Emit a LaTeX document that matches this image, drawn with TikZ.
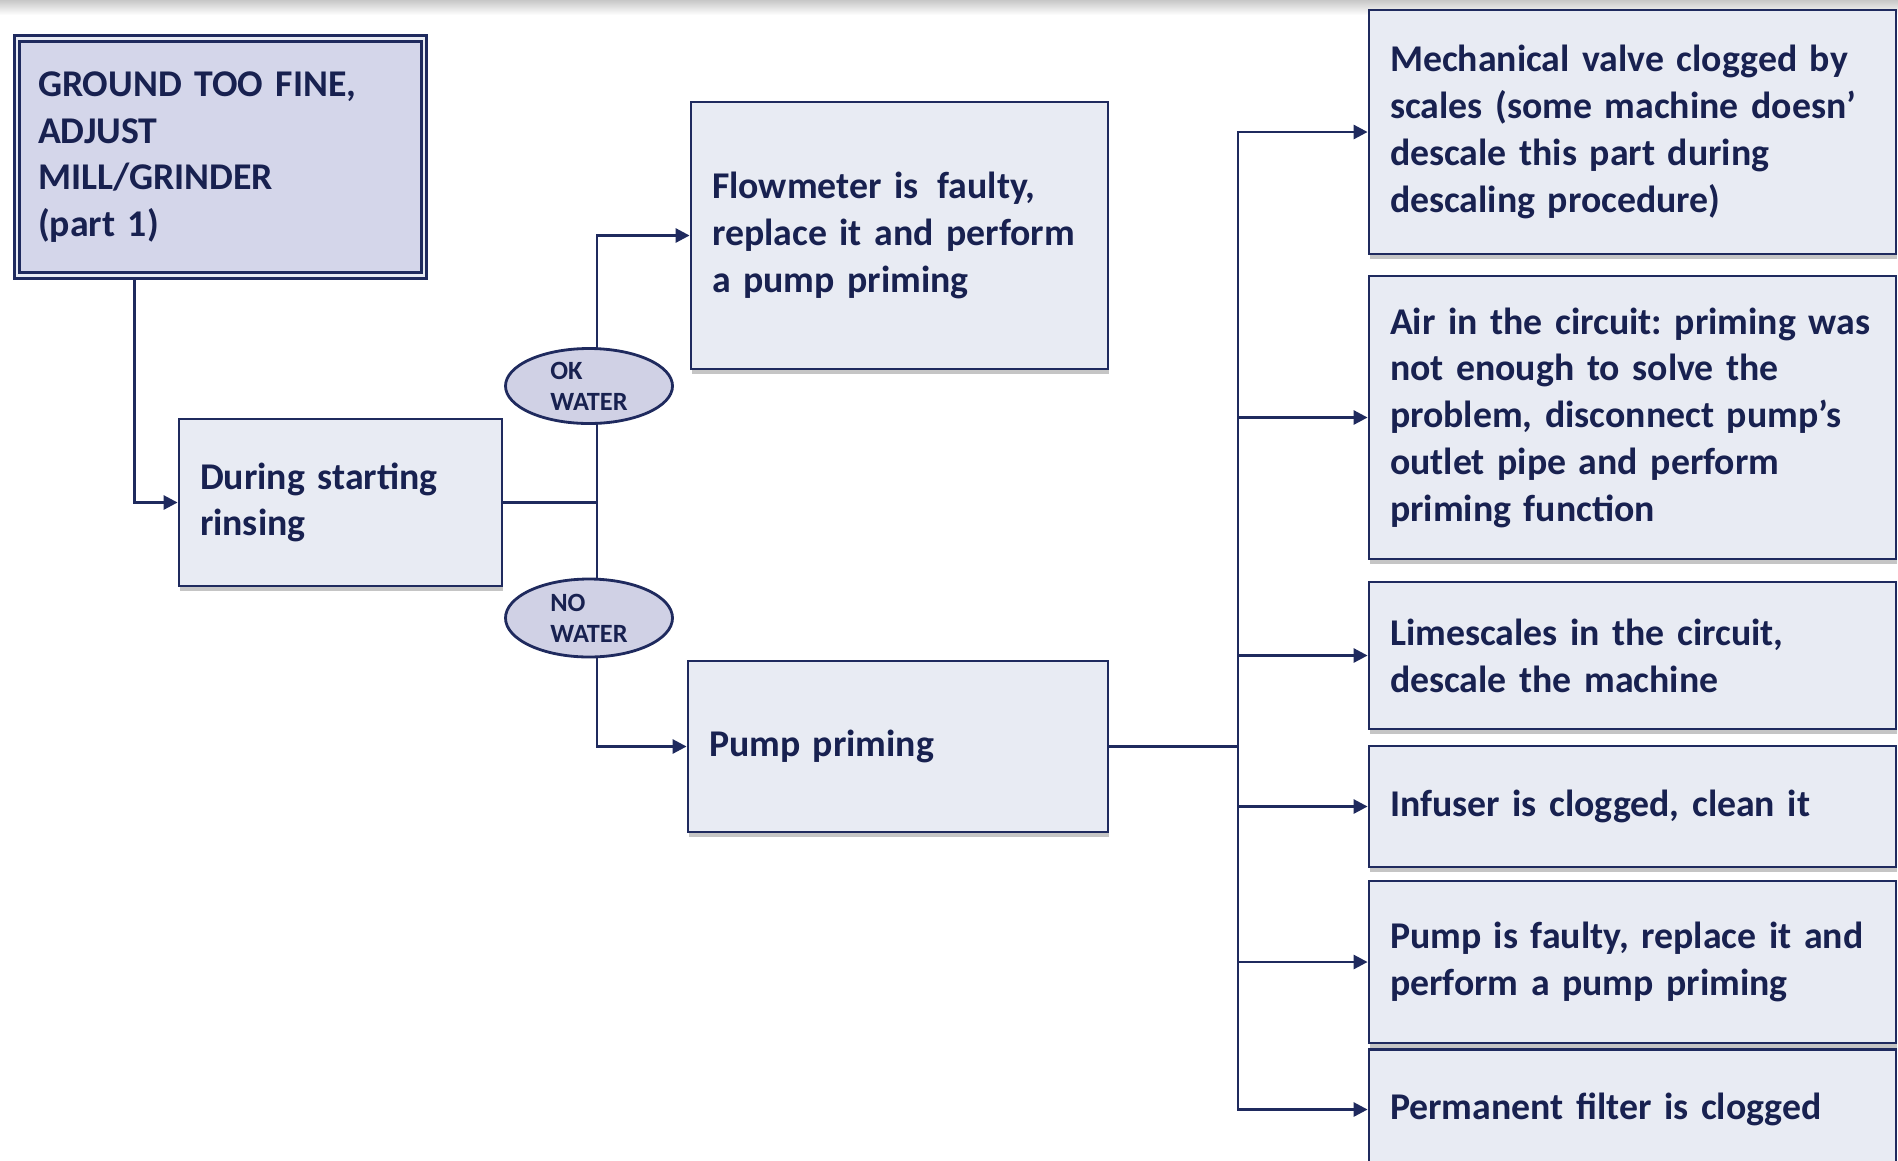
\documentclass[tikz,border=0pt]{standalone}
\usepackage{fontspec}
\setmainfont{Carlito}
\usepackage{xcolor}
\usetikzlibrary{positioning, arrows.meta, calc, shapes.geometric, shadows}
\definecolor{navy}{RGB}{31,42,94}
\definecolor{ink}{RGB}{24,33,80}
\definecolor{paleblue}{RGB}{232,235,243}
\definecolor{lilac}{RGB}{212,214,234}
\definecolor{ovalc}{RGB}{208,209,229}
\frenchspacing

\begin{document}
\begin{tikzpicture}[
  box/.style={draw=navy, line width=1.6pt, fill=paleblue, inner xsep=0.42cm, inner ysep=0pt,
    align=left, text=ink, font=\fontsize{21.5}{26.6}\selectfont\bfseries,
    drop shadow={shadow xshift=0.4pt, shadow yshift=-2.8pt, fill=black!45}},
  topbox/.style={box, fill=lilac, double=paleblue, double distance=1.3pt, line width=1.8pt},
  oval/.style={ellipse, draw=navy, line width=1.6pt, fill=ovalc, inner sep=0pt, align=left,
    text=ink, font=\fontsize{15}{17.5}\selectfont\bfseries},
  line/.style={navy, line width=1.6pt},
  arr/.style={line, -{Triangle[length=8pt,width=8pt]}}]
\useasboundingbox (0,0) rectangle (37.96,-23.2);
\shade[top color=black!22, bottom color=white] (0,0) rectangle (37.96,-0.3);
\node[topbox, minimum width=8.08cm, minimum height=4.74cm, text width=7.3cm] (fine) at (4.41,-3.14)
  {GROUND TOO FINE,\\ADJUST\\MILL/GRINDER\\(part 1)};
\node[box, minimum width=6.46cm, minimum height=3.34cm, text width=5.62cm] (rinse) at (6.81,-10.05)
  {During starting\\rinsing};
\node[box, minimum width=8.34cm, minimum height=5.34cm, text width=7.5cm] (flow) at (17.99,-4.71)
  {Flowmeter is\, faulty,\\replace it and perform\\a pump priming};
\node[box, minimum width=8.40cm, minimum height=3.42cm, text width=7.56cm] (prime) at (17.96,-14.93)
  {Pump priming};
\node[box, minimum width=10.54cm, minimum height=4.88cm, text width=9.7cm] (valve) at (32.65,-2.64)
  {Mechanical valve clogged by\\scales (some machine doesn'\\descale this part during\\descaling procedure)};
\node[box, minimum width=10.54cm, minimum height=5.66cm, text width=9.7cm] (air) at (32.65,-8.35)
  {Air in the circuit: priming was\\not enough to solve the\\problem, disconnect pump's\\outlet pipe and perform\\priming function};
\node[box, minimum width=10.54cm, minimum height=2.94cm, text width=9.7cm] (lime) at (32.65,-13.11)
  {Limescales in the circuit,\\descale the machine};
\node[box, minimum width=10.54cm, minimum height=2.42cm, text width=9.7cm] (infuser) at (32.65,-16.13)
  {Infuser is clogged, clean it};
\node[box, minimum width=10.54cm, minimum height=3.24cm, text width=9.7cm] (pump) at (32.65,-19.24)
  {Pump is faulty, replace it and\\perform a pump priming};
\node[box, minimum width=10.54cm, minimum height=2.4cm, text width=9.7cm] (filter) at (32.65,-22.19)
  {Permanent filter is clogged};
\coordinate (split) at (11.94,-10.05);
\coordinate (trunk) at (24.76,-14.93);
\draw[arr] ([xshift=2.38cm]fine.south west) |- (rinse.west);
\draw[line] (rinse.east) -- (split);
\draw[arr] (split) |- (flow.west);
\draw[arr] (split) |- (prime.west);
\draw[line] (prime.east) -- (trunk);
\foreach \r in {valve, air, lime, infuser, pump, filter}
  \draw[arr] (trunk) |- (\r.west);
\node[oval, minimum width=3.34cm, minimum height=1.5cm] (ok) at (11.78,-7.72) {OK\\WATER};
\node[oval, minimum width=3.34cm, minimum height=1.56cm] (no) at (11.78,-12.36) {NO\\WATER};
\end{tikzpicture}
\end{document}
